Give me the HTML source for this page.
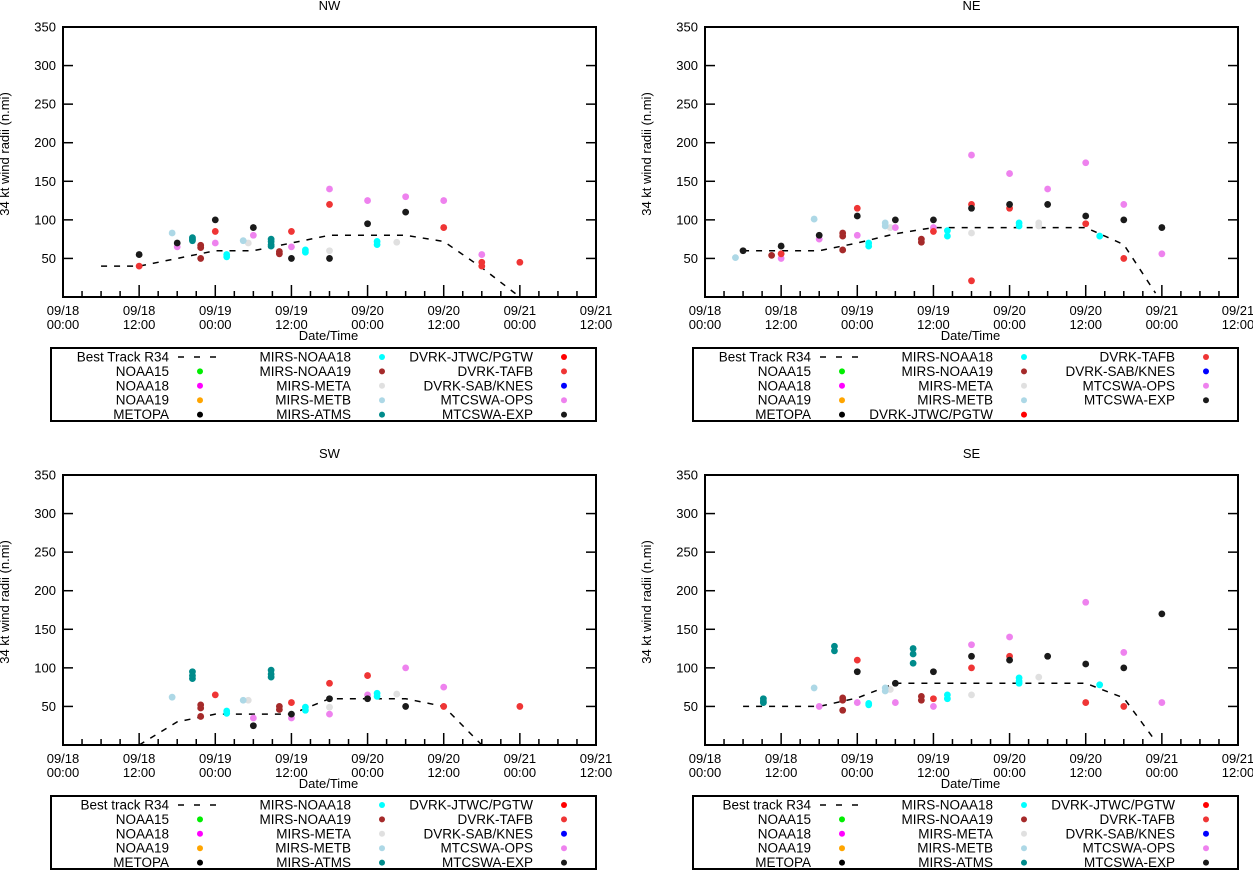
<!DOCTYPE html>
<html><head><meta charset="utf-8">
<style>
html,body{margin:0;padding:0;background:#fff;}
svg{display:block;font-family:"Liberation Sans",Arial,sans-serif;}
</style></head>
<body>
<svg id="chart" width="1253" height="870" viewBox="0 0 1253 870" xmlns="http://www.w3.org/2000/svg"></svg>
<script>
// ---- data: [hour since 09/18 00:00, radius n.mi] ----
const xTickLabels1 = ["09/18","09/18","09/19","09/19","09/20","09/20","09/21","09/21"];
const xTickLabels2 = ["00:00","12:00","00:00","12:00","00:00","12:00","00:00","12:00"];
const yTicks = [50,100,150,200,250,300,350];

const nwBest = [[6,40],[12,40],[18,50],[24,60],[30,60],[36,70],[42,80],[48,80],[54,80],[60,72],[66,38],[72,0]];
const nwTafb = [[12,40],[24,85],[36,85],[42,120],[60,90],[66,45],[66,40],[72,45]];
const nwExp = [[12,55],[18,70],[24,100],[30,90],[36,50],[42,50],[48,95],[54,110]];
const nwOps = [[18,65],[24,70],[30,80],[36,65],[42,140],[48,125],[54,130],[60,125],[66,55]];
const nwMetb = [[17.2,83],[28.4,73]];
const nwMeta = [[29.2,70],[42,60],[52.6,71]];
const nwAtms = [[20.4,77],[20.4,75],[20.4,73],[32.8,75],[32.8,72],[32.8,68],[32.8,66]];
const nwNoaa19 = [[21.7,67],[21.7,64],[21.7,50],[34.1,59],[34.1,56]];
const nwNoaa18 = [[25.8,55],[25.8,52],[38.2,61],[38.2,58],[49.5,72],[49.5,68]];

const neBest = [[6,60],[12,60],[18,60],[24,70],[30,82],[36,90],[42,90],[48,90],[54,90],[60,90],[66,68],[71,5]];
const neTafb = [[12,56],[24,115],[36,85],[42,120],[42,21],[48,115],[60,95],[66,50]];
const neExp = [[6,60],[12,66],[18,80],[24,105],[30,100],[36,100],[42,115],[48,120],[54,120],[60,105],[66,100],[72,90]];
const neOps = [[12,50],[18,75],[24,80],[30,90],[36,90],[42,184],[48,160],[54,140],[60,174],[66,120],[72,56]];
const neMetb = [[4.8,51],[17.2,101],[28.4,96],[28.4,92]];
const neMeta = [[29.2,90],[42,83],[52.6,96],[52.6,92]];
const neAtms = [];
const neNoaa19 = [[10.5,54],[21.7,83],[21.7,79],[21.7,61],[34.1,75],[34.1,71]];
const neNoaa18 = [[25.8,70],[25.8,66],[38.2,86],[38.2,79],[49.5,96],[49.5,92],[62.2,79]];

const swBest = [[12,0],[18,30],[24,40],[30,40],[36,40],[42,60],[48,60],[54,60],[60,50],[66,0]];
const swTafb = [[24,65],[36,55],[42,80],[48,90],[60,50],[72,50]];
const swExp = [[30,25],[36,40],[42,60],[48,60],[54,50]];
const swOps = [[30,35],[36,35],[42,40],[48,65],[54,100],[60,75]];
const swMetb = [[17.2,62],[28.4,58]];
const swMeta = [[29.2,58],[42,49],[52.6,66]];
const swAtms = [[20.4,95],[20.4,90],[20.4,86],[32.8,97],[32.8,92],[32.8,88]];
const swNoaa19 = [[21.7,52],[21.7,48],[21.7,37],[34.1,50],[34.1,46]];
const swNoaa18 = [[25.8,44],[25.8,41],[38.2,49],[38.2,45],[49.5,67],[49.5,63]];

const seBest = [[6,50],[12,50],[18,50],[24,61],[30,80],[36,80],[42,80],[48,80],[54,80],[60,80],[66,61],[71,5]];
const seTafb = [[24,110],[36,60],[42,100],[48,115],[60,55],[66,50]];
const seExp = [[24,95],[30,80],[36,95],[42,115],[48,110],[54,115],[60,105],[66,100],[72,170]];
const seOps = [[18,50],[24,55],[30,55],[36,50],[42,130],[48,140],[60,185],[66,120],[72,55]];
const seMetb = [[17.2,74],[28.4,74],[28.4,70]];
const seMeta = [[29.2,72],[42,65],[52.6,88]];
const seAtms = [[9.2,60],[9.2,57],[9.2,55],[20.4,128],[20.4,122],[32.8,125],[32.8,118],[32.8,106]];
const seNoaa19 = [[21.7,61],[21.7,58],[21.7,45],[34.1,63],[34.1,58]];
const seNoaa18 = [[25.8,54],[25.8,52],[38.2,65],[38.2,60],[49.5,87],[49.5,83],[49.5,80],[62.2,78]];

const legendStd = [
  ["Best Track R34","NOAA15","NOAA18","NOAA19","METOPA"],
  ["MIRS-NOAA18","MIRS-NOAA19","MIRS-META","MIRS-METB","MIRS-ATMS"],
  ["DVRK-JTWC/PGTW","DVRK-TAFB","DVRK-SAB/KNES","MTCSWA-OPS","MTCSWA-EXP"]];
const legendNE = [
  ["Best Track R34","NOAA15","NOAA18","NOAA19","METOPA"],
  ["MIRS-NOAA18","MIRS-NOAA19","MIRS-META","MIRS-METB","DVRK-JTWC/PGTW"],
  ["DVRK-TAFB","DVRK-SAB/KNES","MTCSWA-OPS","MTCSWA-EXP"]];

const COLORS = {"NOAA15":"#00ee00","NOAA18":"#ff00ff","NOAA19":"#ffa500","METOPA":"#000000",
 "MIRS-NOAA18":"#00ffff","MIRS-NOAA19":"#a52a2a","MIRS-META":"#e0e0e0","MIRS-METB":"#add8e6",
 "MIRS-ATMS":"#008b8b","DVRK-JTWC/PGTW":"#ff0000","DVRK-TAFB":"#ef3535","DVRK-SAB/KNES":"#0000ff",
 "MTCSWA-OPS":"#ee82ee","MTCSWA-EXP":"#1a1a1a"};

const svg = document.getElementById('chart');
const NS = "http://www.w3.org/2000/svg";
function mk(tag, attrs, parent){ const e=document.createElementNS(NS,tag); for(const k in attrs) e.setAttribute(k,attrs[k]); (parent||svg).appendChild(e); return e; }
function txt(str, attrs, parent){ const e=mk('text',attrs,parent); e.textContent=str; return e; }

function panel(name, left, top, best, series, legend, bestLabel){
  const W=533, H=270, bottom=top+H;
  const g = mk('g',{});
  
  
  const xs = h => left + h/84*W;
  const ys = v => bottom - v*H/350;
  const t = txt(name,{x:left+W/2,y:top-17,'text-anchor':'middle','font-size':13},g);
  
  
  yTicks.forEach(v=>{
    mk('line',{x1:left,x2:left+10,y1:ys(v),y2:ys(v),stroke:'#000','stroke-width':1.5},g);
    mk('line',{x1:left+W-10,x2:left+W,y1:ys(v),y2:ys(v),stroke:'#000','stroke-width':1.5},g);
    const l=txt(String(v),{x:left-7,y:ys(v)+4.5,'text-anchor':'end','font-size':13},g);
    
    
  });
  for(let h=0; h<=84; h+=3){
    const major = h%12===0;
    mk('line',{x1:xs(h),x2:xs(h),y1:bottom,y2:bottom-(major?12:6),stroke:'#000','stroke-width':1.5},g);
  }
  xTickLabels1.forEach((s,i)=>{
    const a=txt(s,{x:xs(i*12),y:bottom+18,'text-anchor':'middle','font-size':13},g);
    
    
    const b=txt(xTickLabels2[i],{x:xs(i*12),y:bottom+32,'text-anchor':'middle','font-size':13},g);
    
    
  });
  const xt=txt("Date/Time",{x:left+W/2-1,y:bottom+43,'text-anchor':'middle','font-size':13},g);
  
  
  const yt=txt("34 kt wind radii (n.mi)",{x:0,y:0,'text-anchor':'middle','font-size':13,transform:`translate(${left-54},${top+H/2-8}) rotate(-90)`},g);
  
  
  const bt = mk('polyline',{points:best.map(p=>xs(p[0])+','+ys(p[1])).join(' '),fill:'none',stroke:'#000','stroke-width':1.5,'stroke-dasharray':'6,7'},g);
  
  
  series.forEach(([key,pts])=>{
    pts.forEach(p=>{
      const c=mk('circle',{cx:xs(p[0]),cy:ys(p[1]),r:3.4,fill:COLORS[key]},g);
      
      
    });
  });
  mk('rect',{x:left,y:top,width:W,height:H,fill:'none',stroke:'#000','stroke-width':2},g);
  const lx=left-12, ly=bottom+51;
  const lg = mk('g',{},g);
  
  
  mk('rect',{x:lx,y:ly,width:545,height:73,fill:'none',stroke:'#000','stroke-width':2},lg);
  const colText=[118,300,482], colMark=[149,331,513];
  legend.forEach((col,ci)=>{
    col.forEach((label,ri)=>{
      const yy = ly+9+ri*14.4;
      const shown = (ci===0&&ri===0)?bestLabel:label;
      const e=txt(shown,{x:lx+colText[ci],y:yy+4.5,'text-anchor':'end','font-size':13.5},lg);
      
      
      if(ci===0&&ri===0){
        mk('line',{x1:lx+colMark[ci]-22,x2:lx+colMark[ci]+16,y1:yy,y2:yy,stroke:'#000','stroke-width':1.5,'stroke-dasharray':'6,10'},lg);
      } else {
        mk('circle',{cx:lx+colMark[ci],cy:yy,r:3,fill:COLORS[label]},lg);
      }
    });
  });
}

function ser(tafb,exp,ops,metb,meta,atms,n19,n18){
  return [["MIRS-META",meta],["MIRS-METB",metb],["MIRS-ATMS",atms],["MIRS-NOAA19",n19],["MIRS-NOAA18",n18],
          ["MTCSWA-OPS",ops],["DVRK-TAFB",tafb],["MTCSWA-EXP",exp]];
}
panel("NW",63,27,nwBest,ser(nwTafb,nwExp,nwOps,nwMetb,nwMeta,nwAtms,nwNoaa19,nwNoaa18),legendStd,"Best Track R34");
panel("NE",705,27,neBest,ser(neTafb,neExp,neOps,neMetb,neMeta,neAtms,neNoaa19,neNoaa18),legendNE,"Best Track R34");
panel("SW",63,475,swBest,ser(swTafb,swExp,swOps,swMetb,swMeta,swAtms,swNoaa19,swNoaa18),legendStd,"Best track R34");
panel("SE",705,475,seBest,ser(seTafb,seExp,seOps,seMetb,seMeta,seAtms,seNoaa19,seNoaa18),legendStd,"Best track R34");
</script>
</body></html>
